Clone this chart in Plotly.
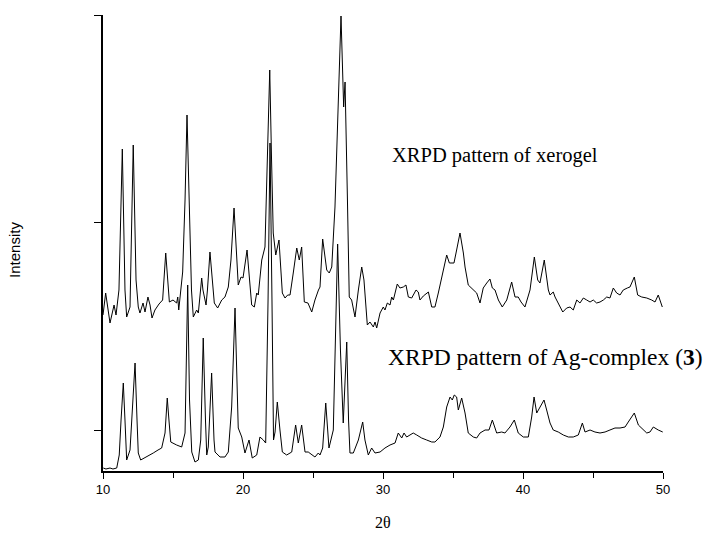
import plotly.graph_objects as go

# 2-theta / intensity (arbitrary units)
xerogel_2theta = [10.0, 10.19, 10.5, 10.79, 10.93, 11.14, 11.38, 11.57, 11.69, 11.93, 12.16, 12.36, 12.52, 12.64, 12.86, 13.0, 13.21, 13.36, 13.5, 13.71, 14.0, 14.26, 14.48, 14.74, 15.0, 15.26, 15.34, 15.41, 15.69, 15.86, 16.0, 16.18, 16.32, 16.45, 16.69, 16.81, 17.05, 17.14, 17.36, 17.46, 17.64, 17.95, 18.19, 18.48, 18.71, 18.95, 19.14, 19.36, 19.5, 19.66, 19.86, 20.0, 20.29, 20.46, 20.62, 20.81, 20.98, 21.09, 21.34, 21.57, 21.75, 21.91, 22.04, 22.16, 22.34, 22.57, 22.81, 23.0, 23.19, 23.36, 23.59, 23.84, 24.02, 24.19, 24.38, 24.64, 24.91, 25.14, 25.39, 25.5, 25.69, 25.98, 26.16, 26.34, 26.57, 26.79, 27.0, 27.19, 27.29, 27.46, 27.59, 27.76, 28.0, 28.24, 28.48, 28.64, 28.88, 29.07, 29.31, 29.43, 29.55, 29.79, 30.02, 30.14, 30.31, 30.5, 30.62, 30.74, 31.02, 31.21, 31.45, 31.64, 31.81, 32.05, 32.36, 32.52, 32.64, 32.88, 33.12, 33.24, 33.48, 33.71, 33.95, 34.19, 34.31, 34.55, 34.74, 35.07, 35.26, 35.5, 35.74, 35.86, 36.09, 36.43, 36.69, 36.93, 37.16, 37.41, 37.64, 37.81, 38.0, 38.24, 38.52, 38.84, 39.19, 39.43, 39.66, 39.86, 40.14, 40.5, 40.81, 41.05, 41.21, 41.52, 41.81, 41.93, 42.16, 42.29, 42.52, 42.84, 43.12, 43.36, 43.59, 43.84, 44.07, 44.31, 44.55, 44.79, 45.02, 45.26, 45.5, 45.74, 45.98, 46.21, 46.45, 46.69, 46.93, 47.16, 47.45, 47.64, 47.95, 48.19, 48.48, 48.84, 49.19, 49.43, 49.66, 49.95]
xerogel_int = [156, 178, 148, 166, 156, 181, 322, 181, 154, 164, 326, 191, 164, 158, 168, 159, 174, 166, 153, 161, 167, 171, 218, 169, 171, 168, 174, 161, 199, 271, 356, 271, 181, 154, 161, 158, 193, 181, 166, 181, 219, 168, 163, 171, 174, 184, 211, 263, 221, 186, 194, 193, 221, 191, 166, 164, 178, 176, 211, 224, 321, 401, 311, 238, 216, 231, 178, 173, 176, 176, 198, 223, 211, 224, 169, 168, 159, 171, 181, 184, 232, 201, 198, 204, 264, 371, 455, 364, 389, 271, 174, 171, 154, 181, 204, 191, 146, 149, 144, 149, 143, 158, 164, 161, 168, 166, 174, 171, 187, 183, 184, 186, 174, 173, 181, 179, 171, 175, 178, 179, 164, 164, 178, 193, 201, 216, 208, 208, 221, 238, 218, 204, 186, 181, 178, 168, 183, 188, 192, 183, 181, 171, 164, 171, 189, 174, 174, 169, 164, 181, 214, 191, 188, 211, 181, 176, 179, 174, 168, 159, 163, 164, 161, 171, 168, 173, 171, 169, 171, 168, 169, 171, 174, 173, 183, 178, 176, 181, 183, 184, 194, 176, 174, 173, 171, 169, 176, 164]

agcomplex_2theta = [10.02, 10.21, 10.5, 10.71, 10.98, 11.16, 11.29, 11.45, 11.57, 11.69, 11.93, 12.11, 12.29, 12.43, 12.52, 12.69, 13.12, 13.59, 13.93, 14.19, 14.43, 14.59, 14.71, 14.84, 15.26, 15.62, 15.86, 16.05, 16.18, 16.34, 16.57, 16.81, 16.98, 17.16, 17.32, 17.41, 17.52, 17.76, 17.93, 18.0, 18.36, 18.71, 18.95, 19.19, 19.43, 19.66, 19.91, 20.14, 20.43, 20.66, 20.98, 21.21, 21.45, 21.62, 21.79, 21.93, 22.07, 22.18, 22.29, 22.45, 22.64, 22.81, 23.12, 23.48, 23.76, 23.95, 24.19, 24.43, 24.66, 24.91, 25.14, 25.38, 25.5, 25.69, 25.91, 26.14, 26.45, 26.76, 26.96, 27.16, 27.41, 27.54, 27.64, 27.88, 28.24, 28.55, 28.71, 28.95, 29.19, 29.43, 29.79, 30.14, 30.5, 30.86, 31.09, 31.34, 31.5, 31.69, 31.93, 32.16, 32.41, 32.76, 33.12, 33.48, 33.71, 34.07, 34.31, 34.55, 34.79, 34.95, 35.09, 35.26, 35.38, 35.62, 35.86, 36.09, 36.45, 36.69, 36.93, 37.29, 37.57, 37.81, 38.12, 38.48, 38.71, 39.07, 39.38, 39.66, 40.02, 40.38, 40.62, 40.79, 40.98, 41.21, 41.5, 41.69, 41.93, 42.16, 42.52, 42.88, 43.24, 43.59, 43.95, 44.24, 44.43, 44.79, 45.14, 45.5, 45.86, 46.21, 46.57, 46.93, 47.29, 47.52, 47.95, 48.24, 48.59, 48.84, 49.07, 49.31, 49.66, 49.98]
agcomplex_int = [3, 2, 3, 2, 3, 16, 51, 88, 51, 11, 21, 71, 108, 51, 18, 11, 14, 18, 21, 23, 38, 73, 51, 29, 26, 24, 38, 186, 71, 19, 9, 11, 31, 133, 51, 16, 24, 98, 31, 19, 14, 14, 19, 64, 163, 43, 34, 18, 31, 13, 16, 34, 31, 28, 171, 328, 171, 31, 39, 69, 41, 19, 16, 19, 46, 28, 46, 19, 19, 16, 14, 18, 16, 23, 68, 23, 41, 227, 121, 48, 129, 51, 18, 18, 31, 49, 31, 16, 23, 18, 19, 23, 26, 28, 38, 33, 38, 34, 36, 38, 36, 33, 31, 29, 29, 34, 44, 64, 74, 71, 76, 74, 61, 73, 58, 38, 34, 33, 38, 41, 41, 51, 38, 39, 38, 44, 51, 38, 34, 34, 54, 74, 58, 64, 71, 61, 48, 41, 39, 36, 34, 34, 36, 48, 39, 41, 39, 38, 39, 41, 43, 43, 44, 49, 58, 46, 41, 38, 39, 44, 41, 39]

x_ticks = [10, 20, 30, 40, 50]
x_tick_labels = ["10", "20", "30", "40", "50"]
y_ticks = [41, 249, 456]

label_xerogel = "XRPD pattern of xerogel"
label_ag = "XRPD pattern of Ag-complex (<b>3</b>)"

fig = go.Figure()
fig.add_trace(go.Scatter(x=xerogel_2theta, y=xerogel_int, mode="lines",
                         line=dict(color="black", width=1), showlegend=False))
fig.add_trace(go.Scatter(x=agcomplex_2theta, y=agcomplex_int, mode="lines",
                         line=dict(color="black", width=1), showlegend=False))

fig.update_layout(
    width=705, height=535,
    margin=dict(l=103, r=42, t=15, b=64),
    paper_bgcolor="white", plot_bgcolor="white",
    font=dict(family="Liberation Sans, Arial", color="black"),
    xaxis=dict(range=[10, 50], tickvals=x_ticks, ticktext=x_tick_labels,
               ticks="outside", ticklen=6, tickwidth=1.2, tickcolor="black",
               minor=dict(dtick=5, tick0=10, ticks="outside", ticklen=5, tickwidth=1.2, tickcolor="black"),
               showline=True, linecolor="black", linewidth=1.6,
               showgrid=False, zeroline=False,
               tickfont=dict(family="Liberation Sans, Arial", size=13, color="black")),
    yaxis=dict(range=[0, 456], tickvals=y_ticks, showticklabels=False,
               ticks="outside", ticklen=7, tickwidth=1.2, tickcolor="black",
               showline=True, linecolor="black", linewidth=1.6,
               showgrid=False, zeroline=False),
)

fig.add_annotation(x=30.5, y=316, xref="x", yref="y", text=label_xerogel,
                   showarrow=False, xanchor="left", yanchor="middle",
                   font=dict(family="Liberation Serif, Times New Roman", size=20.5, color="black"))
fig.add_annotation(x=30.2, y=114, xref="x", yref="y", text=label_ag,
                   showarrow=False, xanchor="left", yanchor="middle",
                   font=dict(family="Liberation Serif, Times New Roman", size=23.5, color="black"))
fig.add_annotation(x=30, y=-0.112, xref="x", yref="paper", text="2θ",
                   showarrow=False, xanchor="center", yanchor="middle",
                   font=dict(family="Liberation Serif, Times New Roman", size=16, color="black"))
fig.add_annotation(x=-0.157, y=0.485, xref="paper", yref="paper", text="Intensity",
                   showarrow=False, textangle=-90, xanchor="center", yanchor="middle",
                   font=dict(family="Liberation Sans, Arial", size=15, color="black"))

fig.write_html("out.html")
